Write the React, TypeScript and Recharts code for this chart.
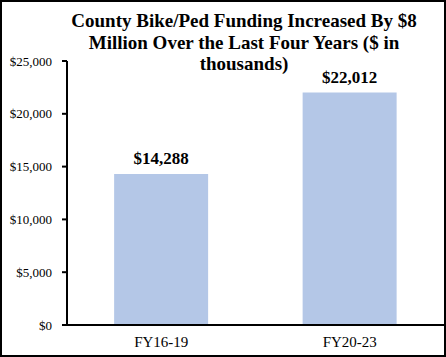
import { BarChart, Bar, XAxis, YAxis, LabelList } from "recharts";

const periods = ["FY16-19", "FY20-23"];
const funding = [14288, 22012];
const yTicks = [0, 5000, 10000, 15000, 20000, 25000];

const data = periods.map((p, i) => ({ period: p, value: funding[i] }));

const fmt = (v: number) => "$" + v.toLocaleString("en-US");

const font = '"Liberation Serif", "Times New Roman", serif';

const App = () => {
  return (
    <div
      style={{
        position: "absolute",
        left: 0,
        top: 0,
        width: 446,
        height: 357,
        boxSizing: "border-box",
        border: "2px solid #000",
        background: "#fff",
        fontFamily: font,
      }}
    >
      {/* title */}
      <div
        style={{
          position: "absolute",
          left: 40,
          width: 404,
          top: 8,
          textAlign: "center",
          fontWeight: "bold",
          fontSize: 19,
          lineHeight: "21.5px",
          color: "#000",
        }}
      >
        County Bike/Ped Funding Increased By $8
        <br />
        Million Over the Last Four Years ($ in
        <br />
        thousands)
      </div>
      <div style={{ position: "absolute", left: -2, top: -2 }}>
        <BarChart
          width={446}
          height={357}
          data={data}
          margin={{ top: 61, right: 2, bottom: 2, left: 0 }}
          barCategoryGap="25%"
        >
          <XAxis
            dataKey="period"
            height={30}
            tickLine={false}
            axisLine={{ stroke: "#000", strokeWidth: 2 }}
            tick={{ fill: "#000", fontSize: 15, fontFamily: font }}
            tickMargin={5}
          />
          <YAxis
            width={67}
            domain={[0, 25000]}
            ticks={yTicks}
            tickFormatter={fmt}
            axisLine={{ stroke: "#000", strokeWidth: 2 }}
            tickLine={{ stroke: "#000", strokeWidth: 2 }}
            tickSize={5}
            tickMargin={10}
            tick={{ fill: "#000", fontSize: 13, fontFamily: font }}
            interval={0}
          />
          <Bar dataKey="value" fill="#B4C7E7" isAnimationActive={false}>
            <LabelList
              dataKey="value"
              position="top"
              offset={10}
              formatter={(v: any) => fmt(Number(v))}
              style={{ fill: "#000", fontWeight: "bold", fontSize: 17, fontFamily: font }}
            />
          </Bar>
        </BarChart>
      </div>
    </div>
  );
};

export default App;
